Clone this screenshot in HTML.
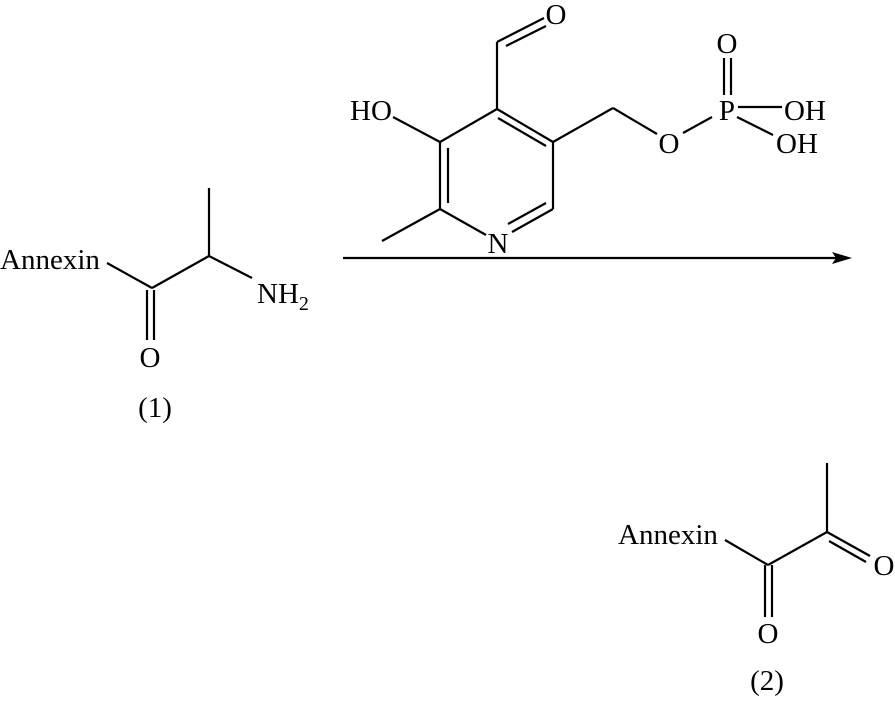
<!DOCTYPE html>
<html><head><meta charset="utf-8"><style>
html,body{margin:0;padding:0;background:#fff}
svg{display:block}
text{font-family:"Liberation Serif",serif;font-size:29px;fill:#000}
</style></head><body>
<svg width="895" height="701" viewBox="0 0 895 701" xmlns="http://www.w3.org/2000/svg">
<g stroke="#000" stroke-width="2.2" fill="none" stroke-linecap="butt">
<line x1="497" y1="42" x2="497" y2="109"/>
<line x1="497" y1="42" x2="544" y2="18"/>
<line x1="506" y1="46" x2="546" y2="26"/>
<line x1="497" y1="109" x2="440" y2="142"/>
<line x1="497" y1="109" x2="553" y2="142"/>
<line x1="498" y1="118" x2="546" y2="146"/>
<line x1="440" y1="142" x2="440" y2="209"/>
<line x1="448" y1="148" x2="448" y2="203"/>
<line x1="440" y1="209" x2="486" y2="235"/>
<line x1="553" y1="142" x2="553" y2="209"/>
<line x1="553" y1="209" x2="512" y2="232"/>
<line x1="546" y1="203" x2="508" y2="224"/>
<line x1="393" y1="117" x2="440" y2="142"/>
<line x1="440" y1="209" x2="382" y2="241"/>
<line x1="553" y1="142" x2="613" y2="108"/>
<line x1="613" y1="108" x2="657" y2="134"/>
<line x1="683" y1="133" x2="712" y2="117"/>
<line x1="724" y1="58" x2="724" y2="95"/>
<line x1="731" y1="58" x2="731" y2="95"/>
<line x1="738" y1="107" x2="782" y2="107"/>
<line x1="737" y1="117" x2="773" y2="135"/>
<line x1="343" y1="258" x2="836" y2="258"/>
<line x1="107" y1="263" x2="152" y2="288"/>
<line x1="152" y1="288" x2="209" y2="256"/>
<line x1="209" y1="256" x2="209" y2="188"/>
<line x1="209" y1="256" x2="252" y2="278"/>
<line x1="147" y1="290" x2="147" y2="340"/>
<line x1="154" y1="290" x2="154" y2="340"/>
<line x1="725" y1="540" x2="768" y2="565"/>
<line x1="768" y1="565" x2="827" y2="532"/>
<line x1="827" y1="532" x2="827" y2="463"/>
<line x1="827" y1="532" x2="870" y2="556"/>
<line x1="829" y1="541" x2="866" y2="562"/>
<line x1="765" y1="565" x2="765" y2="617"/>
<line x1="772" y1="565" x2="772" y2="617"/>
</g>
<polygon points="832,252 852,258 832,264 836,258" fill="#000"/>
<g text-anchor="middle">
<text x="556" y="24">O</text>
<text x="371" y="120">HO</text>
<text x="498" y="253">N</text>
<text x="669" y="153">O</text>
<text x="727" y="120">P</text>
<text x="727" y="53">O</text>
<text x="805" y="120">OH</text>
<text x="797" y="153">OH</text>
<text x="150" y="367">O</text>
<text x="155" y="417">(1)</text>
<text x="768" y="643">O</text>
<text x="884" y="575">O</text>
<text x="767" y="690">(2)</text>
</g>
<text x="0" y="269">Annexin</text>
<text x="257" y="303">NH<tspan font-size="20" dy="7">2</tspan></text>
<text x="618" y="544">Annexin</text>
</svg>
</body></html>
